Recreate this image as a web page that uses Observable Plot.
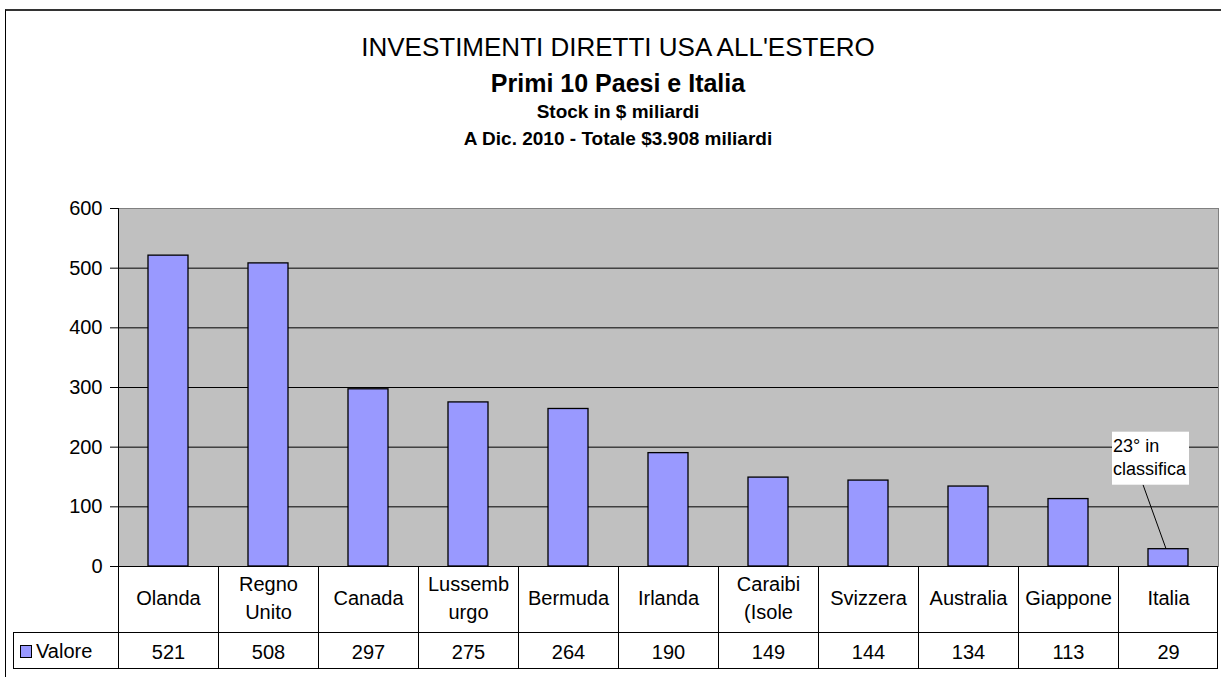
<!DOCTYPE html>
<html>
<head>
<meta charset="utf-8">
<script src="https://cdn.jsdelivr.net/npm/d3@7"></script>
<script src="https://cdn.jsdelivr.net/npm/@observablehq/plot@0.6"></script>
<style>
  html, body { margin: 0; padding: 0; background: #fff; }
  #wrap { position: relative; width: 1221px; height: 677px; overflow: hidden; font-family: "Liberation Sans", Arial, sans-serif; color: #000; }
  #border { position: absolute; left: 5px; top: 9px; width: 1300px; height: 800px; border-top: 2px solid #333; border-left: 1px solid #000; }
  .t { position: absolute; left: 0; width: 1236px; text-align: center; white-space: nowrap; }
  #chart { position: absolute; left: 0; top: 180px; }
</style>
</head>
<body>
<div id="wrap">
  <div id="border"></div>
  <div class="t" id="t1" style="top:32px;font-size:26px;line-height:30px;"></div>
  <div class="t" id="t2" style="top:68px;font-size:25px;line-height:30px;font-weight:bold;"></div>
  <div class="t" id="t3" style="top:101px;font-size:19px;line-height:22px;font-weight:bold;"></div>
  <div class="t" id="t4" style="top:128px;font-size:19px;line-height:22px;font-weight:bold;"></div>
  <div id="chart"></div>
</div>
<script>
// ---- data ----
const titles = [
  "INVESTIMENTI DIRETTI USA ALL'ESTERO",
  "Primi 10 Paesi e Italia",
  "Stock in $ miliardi",
  "A Dic. 2010 - Totale $3.908 miliardi"
];
const countries = ["Olanda", "Regno Unito", "Canada", "Lussemburgo", "Bermuda", "Irlanda", "Caraibi (Isole", "Svizzera", "Australia", "Giappone", "Italia"];
const tableLabels = ["Olanda", "Regno\nUnito", "Canada", "Lussemb\nurgo", "Bermuda", "Irlanda", "Caraibi\n(Isole", "Svizzera", "Australia", "Giappone", "Italia"];
const values = [521, 508, 297, 275, 264, 190, 149, 144, 134, 113, 29];
const seriesName = "Valore";
const yTicks = [0, 100, 200, 300, 400, 500, 600];
const gridValues = [100, 200, 300, 400, 500];
const annotation = {country: "Italia", value: 29, text: "23° in\nclassifica"};

titles.forEach((t, i) => { document.getElementById("t" + (i + 1)).textContent = t; });

const data = countries.map((c, i) => ({country: c, label: tableLabels[i], value: values[i]}));

const FONT = "Liberation Sans, Arial, sans-serif";
const BAR = "#9999ff";
const NS = "http://www.w3.org/2000/svg";
function el(tag, attrs, parent) {
  const e = document.createElementNS(NS, tag);
  for (const k in attrs) e.setAttribute(k, attrs[k]);
  if (parent) parent.appendChild(e);
  return e;
}

// table frame + legend swatch, positioned from the scales
function tableMark(index, scales, values, dimensions) {
  const {x, y} = scales;
  const bw = typeof x.bandwidth === "function" ? x.bandwidth() : x.bandwidth;
  const step = typeof x.step === "function" ? x.step() : (x(countries[1]) - x(countries[0]));
  const y0 = y(0);
  const yMid = y0 + 66, yBot = y0 + 102;
  const left = dimensions.marginLeft;
  const right = dimensions.width - dimensions.marginRight;
  const legendLeft = 13;
  const g = el("g", {stroke: "#000", "stroke-width": 1, fill: "none"});
  const H = (x1, x2, yy) => el("line", {x1, x2, y1: yy, y2: yy}, g);
  const V = (xx, y1, y2) => el("line", {x1: xx, x2: xx, y1, y2}, g);
  H(left, right, y0 + 0.5);
  H(legendLeft, right, yMid + 0.5);
  H(legendLeft, right, yBot + 0.5);
  countries.forEach(c => {
    const xl = Math.round(x(c) - (step - bw) / 2) + 0.5;
    V(xl, y0, yBot);
  });
  V(right - 0.5, y0, yBot);
  V(left + 0.5, dimensions.marginTop, yBot);
  V(legendLeft + 0.5, yMid, yBot);
  // legend swatch
  el("rect", {x: 20.5, y: yMid + 13.5, width: 11, height: 12, fill: BAR, stroke: "#000"}, g);
  const t = el("text", {x: 36, y: yMid + 19, "font-size": 20, fill: "#000", stroke: "none", "text-anchor": "start", "dominant-baseline": "central", "font-family": FONT}, g);
  t.textContent = seriesName;
  return g;
}

function annotationMark(index, scales) {
  const {x, y} = scales;
  const bw = typeof x.bandwidth === "function" ? x.bandwidth() : x.bandwidth;
  const cx = x(annotation.country) + bw / 2;
  const cy = y(annotation.value);
  const g = el("g", {});
  el("line", {x1: cx - 25, y1: cy - 64, x2: cx - 2, y2: cy, stroke: "#000", "stroke-width": 1}, g);
  el("rect", {x: cx - 56, y: cy - 117, width: 77, height: 53, fill: "#fff", stroke: "none"}, g);
  annotation.text.split("\n").forEach((line, i) => {
    const t = el("text", {x: cx - 55, y: cy - 103 + i * 23, "font-size": 18, fill: "#000", "text-anchor": "start", "dominant-baseline": "central", "font-family": FONT}, g);
    t.textContent = line;
  });
  return g;
}

const chart = Plot.plot({
  width: 1221,
  height: 497,
  marginLeft: 118,
  marginRight: 3,
  marginTop: 28,
  marginBottom: 111,
  style: {fontFamily: FONT, fontSize: "20px", color: "#000", background: "transparent", overflow: "visible"},
  x: {type: "band", domain: countries, paddingInner: 0.6, paddingOuter: 0.3, align: 0.5, axis: null},
  y: {domain: [0, 600], axis: null},
  marks: [
    Plot.frame({fill: "#c0c0c0", stroke: "#808080"}),
    Plot.ruleY(gridValues, {stroke: "#000", strokeWidth: 1}),
    Plot.barY(data, {x: "country", y: "value", fill: BAR, stroke: "#000", strokeWidth: 1.3}),
    tableMark,
    Plot.text(data, {x: "country", text: "label", frameAnchor: "bottom", lineAnchor: "middle", dy: 30, fontSize: 20, lineHeight: 1.4, fill: "#000"}),
    Plot.text(data, {x: "country", text: d => String(d.value), frameAnchor: "bottom", lineAnchor: "middle", dy: 86, fontSize: 20, fill: "#000"}),
    Plot.axisY(yTicks, {tickSize: 8, tickPadding: 8, fontSize: 20, tickFormat: d => String(d), stroke: "#000", label: null}),
    annotationMark
  ]
});
document.getElementById("chart").appendChild(chart);
</script>
</body>
</html>
